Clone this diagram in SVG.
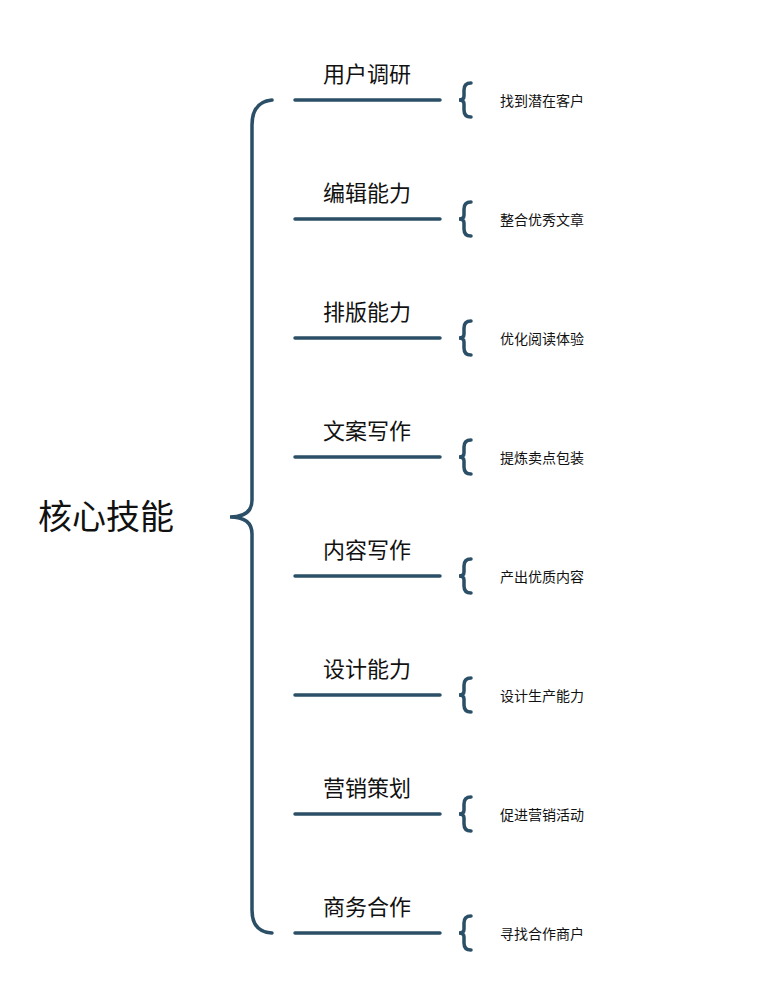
<svg xmlns="http://www.w3.org/2000/svg" width="782" height="1000" viewBox="0 0 782 1000">
<style>
.ln{stroke:#2b4f66;stroke-width:3.5;fill:none;stroke-linecap:round}
.t{font-family:"Noto Sans CJK SC",sans-serif;fill:#111}
.h{font-size:22px;text-anchor:middle}
.s{font-size:14px}
</style>
<defs>
<path id="sb" class="ln" d="M471,-17 Q464,-17 464,-10 L464,-4 Q464,0 459,0 Q464,0 464,4 L464,10 Q464,17 471,17"/>
</defs>
<rect width="782" height="1000" fill="#fff"/>
<g id="root"><text class="t" x="38" y="529" font-size="34">核心技能</text></g>
<g id="connectors">
<path class="ln" stroke-width="4" d="M272,100 Q252,102 252,125 L252,500 Q252,517 230,517 Q252,517 252,534 L252,910 Q252,932 272,933"/>
<line class="ln" x1="295" y1="100" x2="440" y2="100"/><use href="#sb" y="100"/>
<line class="ln" x1="295" y1="219" x2="440" y2="219"/><use href="#sb" y="219"/>
<line class="ln" x1="295" y1="338" x2="440" y2="338"/><use href="#sb" y="338"/>
<line class="ln" x1="295" y1="457" x2="440" y2="457"/><use href="#sb" y="457"/>
<line class="ln" x1="295" y1="576" x2="440" y2="576"/><use href="#sb" y="576"/>
<line class="ln" x1="295" y1="695" x2="440" y2="695"/><use href="#sb" y="695"/>
<line class="ln" x1="295" y1="814" x2="440" y2="814"/><use href="#sb" y="814"/>
<line class="ln" x1="295" y1="933" x2="440" y2="933"/><use href="#sb" y="933"/>
</g>
<g id="n1"><text class="t h" x="367" y="82">用户调研</text><text class="t s" x="500" y="106">找到潜在客户</text></g>
<g id="n2"><text class="t h" x="367" y="201">编辑能力</text><text class="t s" x="500" y="225">整合优秀文章</text></g>
<g id="n3"><text class="t h" x="367" y="320">排版能力</text><text class="t s" x="500" y="344">优化阅读体验</text></g>
<g id="n4"><text class="t h" x="367" y="439">文案写作</text><text class="t s" x="500" y="463">提炼卖点包装</text></g>
<g id="n5"><text class="t h" x="367" y="558">内容写作</text><text class="t s" x="500" y="582">产出优质内容</text></g>
<g id="n6"><text class="t h" x="367" y="677">设计能力</text><text class="t s" x="500" y="701">设计生产能力</text></g>
<g id="n7"><text class="t h" x="367" y="796">营销策划</text><text class="t s" x="500" y="820">促进营销活动</text></g>
<g id="n8"><text class="t h" x="367" y="915">商务合作</text><text class="t s" x="500" y="939">寻找合作商户</text></g>
</svg>
